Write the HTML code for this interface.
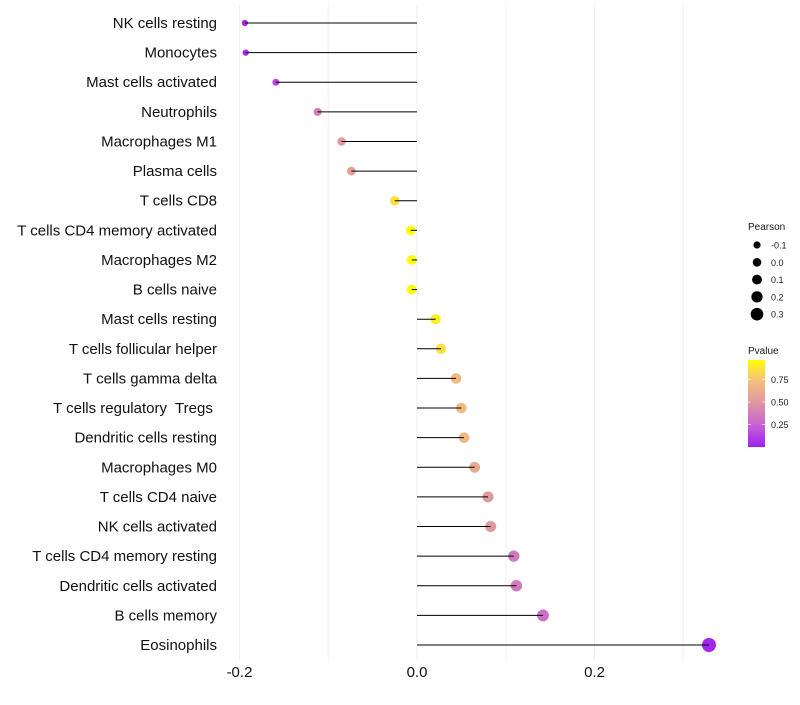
<!DOCTYPE html>
<html><head><meta charset="utf-8"><style>
body{margin:0;background:#fff;font-family:"Liberation Sans",sans-serif;}
svg text{font-family:"Liberation Sans",sans-serif;white-space:pre;}
</style></head><body>
<svg id="c" width="800" height="700"></svg>
<script>
const categories=["NK cells resting","Monocytes","Mast cells activated","Neutrophils","Macrophages M1","Plasma cells","T cells CD8","T cells CD4 memory activated","Macrophages M2","B cells naive","Mast cells resting","T cells follicular helper","T cells gamma delta","T cells regulatory  Tregs ","Dendritic cells resting","Macrophages M0","T cells CD4 naive","NK cells activated","T cells CD4 memory resting","Dendritic cells activated","B cells memory","Eosinophils"];
const pearson=[-0.194,-0.193,-0.159,-0.112,-0.085,-0.074,-0.025,-0.007,-0.006,-0.006,0.021,0.027,0.044,0.050,0.053,0.065,0.080,0.083,0.109,0.112,0.142,0.329];
const pvalue=[0.05,0.05,0.15,0.38,0.5,0.55,0.85,0.96,0.96,0.96,0.9,0.85,0.7,0.7,0.7,0.6,0.5,0.5,0.35,0.35,0.3,0.02];
const xTicks=[-0.2,0,0.2];
const xTickLabels=["-0.2","0.0","0.2"];
const sizeLegend=[-0.1,0,0.1,0.2,0.3];
const sizeLegendLabels=["-0.1","0.0","0.1","0.2","0.3"];
const pTicks=[0.25,0.5,0.75];
const pTickLabels=["0.25","0.50","0.75"];

const NS="http://www.w3.org/2000/svg";
const svg=document.getElementById('c');
function mk(t,a,p){const e=document.createElementNS(NS,t);for(const k in a)e.setAttribute(k,a[k]);(p||svg).appendChild(e);return e;}
const x=v=>417+v*887.5;
const y=i=>23+i*(622/21);
const r=v=>Math.sqrt(Math.max(4,24.4+74.7*v));
const stops=[[0,[160,32,240]],[0.25,[200,100,210]],[0.5,[224,153,159]],[0.75,[245,196,120]],[0.96,[255,255,0]]];
function col(p){p=Math.max(0,Math.min(0.96,p));for(let k=1;k<stops.length;k++){if(p<=stops[k][0]){const a=stops[k-1],b=stops[k],t=(p-a[0])/(b[0]-a[0]);return 'rgb('+a[1].map((c,j)=>Math.round(c+(b[1][j]-c)*t)).join(',')+')';}}return 'rgb(255,255,0)';}
[-0.2,-0.1,0,0.1,0.2,0.3].forEach(v=>{const g=mk('line',{x1:x(v),x2:x(v),y1:5,y2:660,stroke:'#f0f0f0','stroke-width':1});

});
categories.forEach((c,i)=>{
 const t=mk('text',{x:217,y:y(i)+5,'text-anchor':'end','font-size':15,fill:'#111'});t.textContent=c;
 
 
 const d=mk('circle',{cx:x(pearson[i]),cy:y(i),r:r(pearson[i]),fill:col(pvalue[i])});
 
 
 const s=mk('line',{x1:x(0),x2:x(pearson[i]),y1:y(i),y2:y(i),stroke:'#000','stroke-width':1});
 
 
});
xTicks.forEach((v,i)=>{const t=mk('text',{x:x(v),y:677,'text-anchor':'middle','font-size':15,fill:'#111'});t.textContent=xTickLabels[i];

});
const lt=mk('text',{x:748,y:230,'font-size':10,fill:'#1a1a1a'});lt.textContent='Pearson';


sizeLegend.forEach((v,i)=>{const cy=245+i*17.3;
 const c=mk('circle',{cx:757,cy:cy,r:3.6+(v+0.1)*6.8,fill:'#000'});
 
 
 const t=mk('text',{x:771,y:cy+3.5,'font-size':9,fill:'#1a1a1a'});t.textContent=sizeLegendLabels[i];
 
 });
const pt=mk('text',{x:748,y:354,'font-size':10,fill:'#1a1a1a'});pt.textContent='Pvalue';


const defs=mk('defs',{});const lg=mk('linearGradient',{id:'g',x1:0,y1:1,x2:0,y2:0},defs);
stops.forEach(s=>mk('stop',{offset:s[0]/0.96,'stop-color':'rgb('+s[1].join(',')+')'},lg));
const bar=mk('rect',{x:748,y:360,width:17,height:87,fill:'url(#g)'});


pTicks.forEach((v,i)=>{const yy=447-v*90;
 mk('line',{x1:748,x2:751,y1:yy,y2:yy,stroke:'#fff','stroke-opacity':0.6});
 mk('line',{x1:762,x2:765,y1:yy,y2:yy,stroke:'#fff','stroke-opacity':0.6});
 const t=mk('text',{x:771,y:yy+3.5,'font-size':9,fill:'#1a1a1a'});t.textContent=pTickLabels[i];
 
 });
</script>
</body></html>
